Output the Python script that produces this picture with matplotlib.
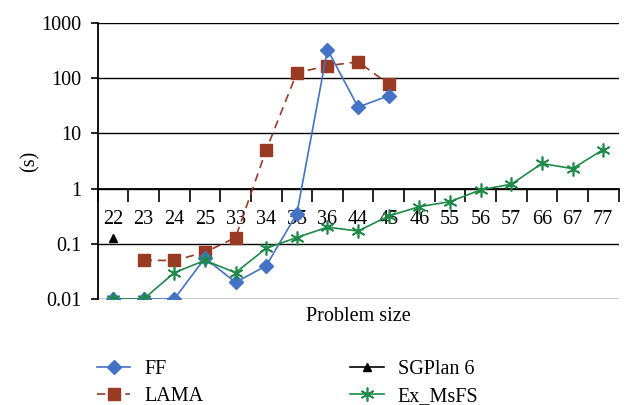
import matplotlib
matplotlib.use("Agg")
import matplotlib.pyplot as plt
import numpy as np

categories = ["22", "23", "24", "25", "33", "34", "35", "36", "44", "45",
              "46", "55", "56", "57", "66", "67", "77"]
ff = [0.01, 0.01, 0.01, 0.055, 0.02, 0.04, 0.35, 330, 30, 48]
lama = [None, 0.05, 0.05, 0.07, 0.13, 5, 125, 168, 198, 78]
sgplan = [0.13]
exmsfs = [0.01, 0.01, 0.03, 0.05, 0.03, 0.083, 0.13, 0.2, 0.17, 0.32,
          0.47, 0.58, 0.95, 1.2, 2.85, 2.3, 5.1]
ytick_vals = [0.01, 0.1, 1, 10, 100, 1000]
ytick_labels = ["0.01", "0.1", "1", "10", "100", "1000"]

plt.rcParams['font.family'] = ['Liberation Serif', 'DejaVu Serif']
FS = 14.5

W, H = 628, 405
fig = plt.figure(figsize=(W / 100, H / 100), dpi=100)
ax = fig.add_axes([97.7 / W, 1 - 299 / H, (618.5 - 97.7) / W, (299 - 23) / H])

x = np.arange(len(categories))

def xy(vals):
    xs = [x[i] for i, v in enumerate(vals) if v is not None]
    ys = [v for v in vals if v is not None]
    return xs, ys

blue = "#4472C4"
brown = "#993A22"
green = "#1E8A48"

l1, = ax.plot(*xy(ff), color=blue, lw=1.2, marker='D', ms=7.5, mec=blue, mfc=blue, label="FF", zorder=4)
l2, = ax.plot(*xy(lama), color=brown, lw=1.2, ls=(0, (5, 3.5)), marker='s', ms=9, mec=brown, mfc=brown, label="LAMA", zorder=3)
l3, = ax.plot(*xy(sgplan), color="black", lw=1.2, marker='^', ms=6, ls='-', label="SGPlan 6", zorder=5)
l4, = ax.plot(*xy(exmsfs), color=green, lw=1.2, marker=(6, 2, 0), ms=10, mew=1.2, mec=green, label="Ex_MsFS", zorder=4)

ax.set_yscale('log')
ax.set_ylim(0.01, 1000)
ax.set_xlim(-0.5, len(categories) - 0.5)
ax.set_yticks(ytick_vals)
ax.set_yticklabels(ytick_labels)
ax.yaxis.set_minor_locator(matplotlib.ticker.NullLocator())
ax.tick_params(axis='y', which='major', length=5, width=1.2, direction='out', pad=7, labelsize=FS, color='black')

for v in ytick_vals:
    ax.axhline(v, color='black', lw=1.0, zorder=1)

for s in ['top', 'right']:
    ax.spines[s].set_visible(False)
ax.spines['left'].set_linewidth(1.3)
ax.spines['bottom'].set_position(('data', 1))
ax.spines['bottom'].set_linewidth(1.3)

ax.set_xticks(np.arange(len(categories) + 1) - 0.5)
ax.set_xticklabels([])
ax.tick_params(axis='x', which='major', length=9, width=1.2, direction='out')
ax.set_xticks(x, minor=True)
ax.set_xticklabels(categories, minor=True)
ax.tick_params(axis='x', which='minor', length=0, pad=15.5, labelsize=FS)

ax.set_ylabel("(s)", fontsize=FS, labelpad=1)
ax.text(0.5, -0.065, "Problem size", transform=ax.transAxes, ha='center', va='center', fontsize=FS)

leg = fig.legend(handles=[l1, l2, l3, l4], labels=["FF", "LAMA", "SGPlan 6", "Ex_MsFS"],
                 ncol=2, loc='upper left', bbox_to_anchor=(97 / W, 1 - 360 / H),
                 frameon=False, fontsize=FS, handlelength=1.65, handletextpad=0.7,
                 columnspacing=7.3, labelspacing=0.4, borderaxespad=0, borderpad=0)

fig.savefig("out.png", dpi=100)
